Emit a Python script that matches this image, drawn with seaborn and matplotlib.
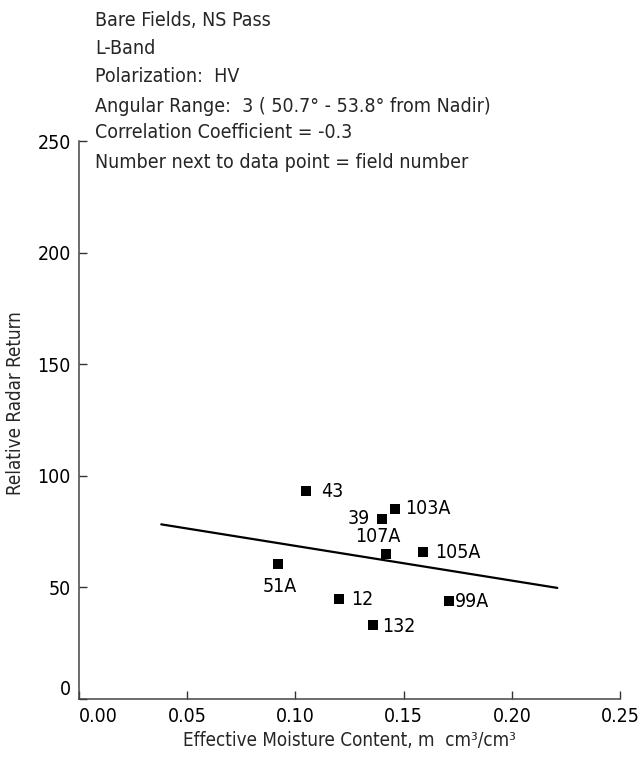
import matplotlib
matplotlib.use("Agg")
import matplotlib.pyplot as plt
from matplotlib import font_manager
import seaborn as sns
import pandas as pd

# Field measurements: effective moisture content vs. relative radar return
fields = ["43", "39", "103A", "107A", "105A", "51A", "12", "99A", "132"]
moisture = [0.105, 0.140, 0.146, 0.142, 0.159, 0.092, 0.120, 0.171, 0.136]
radar_return = [93.0, 80.5, 85.0, 64.7, 65.6, 60.2, 44.6, 43.7, 32.8]

# Least-squares fit line drawn across the sampled range
fit_x = [0.038, 0.221]
fit_y = [78.1, 49.6]

x_ticks = [0.0, 0.05, 0.10, 0.15, 0.20, 0.25]
x_tick_labels = ["0.00", "0.05", "0.10", "0.15", "0.20", "0.25"]
y_ticks = [0, 50, 100, 150, 200, 250]

# Label offsets (points) and alignment for each field number
label_offsets = {
    "43": (11, 0, "left", "center"),
    "39": (-9, 0, "right", "center"),
    "103A": (7, 0, "left", "center"),
    "107A": (-6, 6, "center", "bottom"),
    "105A": (9, 0, "left", "center"),
    "51A": (1, -9, "center", "top"),
    "12": (9, 0, "left", "center"),
    "99A": (4, 0, "left", "center"),
    "132": (6, -1, "left", "center"),
}

header_lines = [
    "Bare Fields, NS Pass",
    "L-Band",
    "Polarization:  HV",
    "Angular Range:  3 ( 50.7° - 53.8° from Nadir)",
    "Correlation Coefficient = -0.3",
    "Number next to data point = field number",
]

sns.set_style("ticks")


def pick_font(size):
    """Prefer a narrow/condensed sans face; fall back to Liberation Sans."""
    files = [f for f in font_manager.fontManager.ttflist]
    prefs = ["LiberationSansNarrow-Regular", "DejaVuSansCondensed.",
             "RobotoCondensed-Regular", "OpenSans_Condensed-Regular",
             "OpenSansCondensed", "NotoSans-Condensed", "Condensed", "Narrow"]
    for key in prefs:
        for f in files:
            fn = f.fname.replace("\\", "/").split("/")[-1]
            if key in fn and "Bold" not in fn and "Italic" not in fn \
                    and "Oblique" not in fn and "Light" not in fn:
                return font_manager.FontProperties(fname=f.fname, size=size), True
    return font_manager.FontProperties(family="Liberation Sans", size=size - 1), False


fp, condensed = pick_font(14)
fp_small = fp.copy()
fp_small.set_size(fp.get_size() - 0.5)

df = pd.DataFrame({"field": fields, "moisture": moisture, "radar": radar_return})
fit_df = pd.DataFrame({"moisture": fit_x, "radar": fit_y})

fig = plt.figure(figsize=(6.43, 7.59), dpi=100)
ax = fig.add_axes([0.1229, 0.0797, 0.8414, 0.7345])

sns.lineplot(data=fit_df, x="moisture", y="radar", ax=ax, color="black",
             linewidth=1.6, zorder=2)
sns.scatterplot(data=df, x="moisture", y="radar", ax=ax, marker="s", s=55,
                color="black", edgecolor="black", linewidth=0, zorder=3)

for name, xv, yv in zip(fields, moisture, radar_return):
    dx, dy, ha, va = label_offsets[name]
    ax.annotate(name, (xv, yv), xytext=(dx, dy), textcoords="offset points",
                ha=ha, va=va, fontproperties=fp, color="black")

ax.set_xlim(0, 0.25)
ax.set_ylim(0, 250)
ax.set_xticks(x_ticks)
ax.set_xticklabels(x_tick_labels)
ax.set_yticks(y_ticks)
ax.tick_params(direction="in", length=6, width=1, colors="#333333",
               labelcolor="black", pad=6)
for lbl in ax.get_xticklabels() + ax.get_yticklabels():
    lbl.set_fontproperties(fp)
# keep the two zero labels apart at the corner
ax.get_xticklabels()[0].set_horizontalalignment("left")
ax.get_yticklabels()[0].set_verticalalignment("bottom")

sns.despine(ax=ax)
for side in ("left", "bottom"):
    ax.spines[side].set_color("#444444")
    ax.spines[side].set_linewidth(1.1)

ax.set_xlabel("Effective Moisture Content, m  cm³/cm³", fontproperties=fp_small, labelpad=4)
ax.set_ylabel("Relative Radar Return", fontproperties=fp_small)
ax.yaxis.set_label_coords(-0.1, 0.53)

line_y = [21, 48, 77, 106, 133, 162]
for text, py in zip(header_lines, line_y):
    fig.text(95 / 643, 1 - py / 759, text, ha="left", va="center", fontproperties=fp)

fig.savefig("out.png", dpi=100, facecolor="white")
